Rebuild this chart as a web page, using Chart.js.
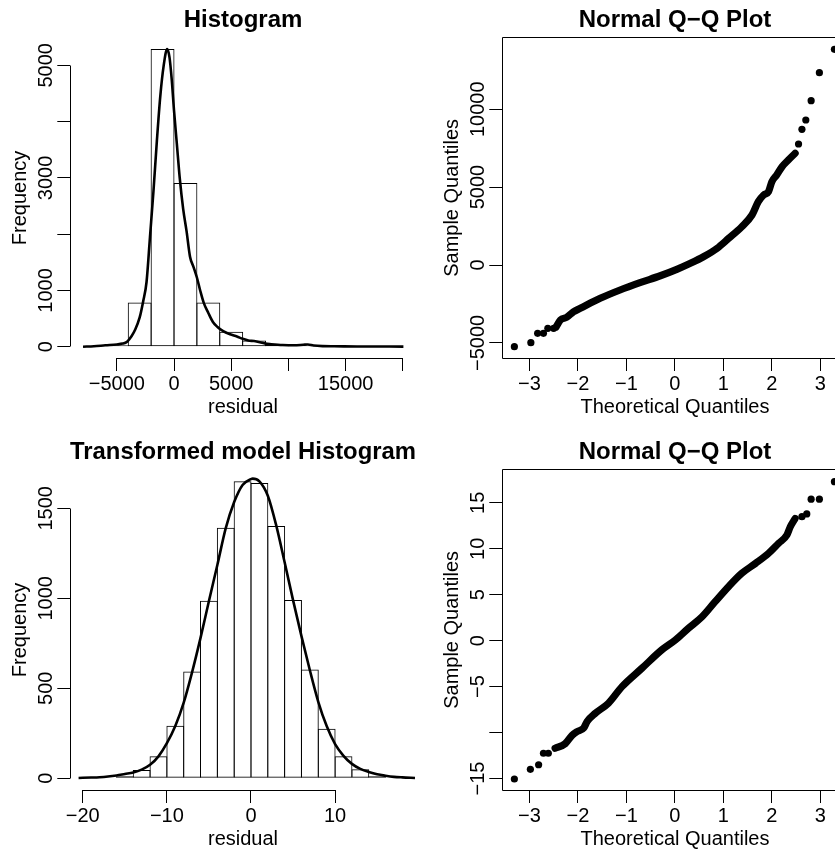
<!DOCTYPE html>
<html>
<head>
<meta charset="utf-8">
<script src="https://cdn.jsdelivr.net/npm/chart.js@4.4.1/dist/chart.umd.min.js"></script>
<style>
html,body{margin:0;padding:0;background:#fff;overflow:hidden;width:835px;height:854px;}
.fig{position:absolute;width:432px;height:432px;}
canvas{display:block;}
</style>
</head>
<body>
<div class="fig" style="left:0;top:0"><canvas id="c1" width="432" height="432"></canvas></div>
<div class="fig" style="left:432px;top:0"><canvas id="c2" width="432" height="432"></canvas></div>
<div class="fig" style="left:0;top:432px"><canvas id="c3" width="432" height="432"></canvas></div>
<div class="fig" style="left:432px;top:432px"><canvas id="c4" width="432" height="432"></canvas></div>
<script>
// ---------- Panel 1: Histogram of residuals ----------
const hist1BinCenters = [-5000, -3000, -1000, 1000, 3000, 5000, 7000, 9000, 11000, 13000];
const hist1Counts     = [25, 785, 5290, 2910, 785, 267, 110, 35, 12, 5];
const dens1X = [-7950,-7000,-6000,-5000,-4500,-4100,-3700,-3400,-3000,-2700,-2400,-2100,-1800,-1500,-1200,-900,-600,-400,-200,0,250,500,800,1100,1400,1700,2000,2300,2600,3000,3400,3800,4300,4900,5500,6000,6500,7000,7500,8000,8500,9500,10500,11300,11700,12200,13000,14000,16000,18000,20050];
const dens1Y = [0,8,25,40,55,90,190,300,520,800,1150,1950,2750,3650,4450,5000,5290,5150,4750,4200,3600,3000,2450,2050,1600,1420,1230,990,780,600,440,350,275,220,180,140,110,100,80,55,45,30,25,35,40,20,10,8,5,3,2];
const x1Ticks = [-5000, 0, 5000, 10000, 15000, 20000];
const x1TickLabels = ['\u22125000', '0', '5000', '', '15000', ''];
const y1Ticks = [0, 1000, 2000, 3000, 4000, 5000];
const y1TickLabels = ['0', '1000', '', '3000', '', '5000'];

// ---------- Panel 2: Normal Q-Q plot of residuals ----------
const qq2BandTheo   = [-2.45,-2.36,-2.23,-2.09,-1.95,-1.54,-1.13,-0.72,-0.30,0.04,0.32,0.59,0.87,1.11,1.38,1.59,1.72,1.83,1.93,2.0,2.10,2.21,2.34,2.48];
const qq2BandSample = [-3980,-3530,-3357,-3000,-2780,-2140,-1605,-1136,-690,-280,110,530,1072,1714,2459,3209,4063,4493,4705,5347,5777,6310,6739,7170];
const qq2TailTheo   = [-3.31,-2.97,-2.83,-2.71,-2.62,-2.50,2.55,2.62,2.70,2.81,2.98,3.29];
const qq2TailSample = [-5244,-4987,-4384,-4384,-4064,-4064,7766,8710,9307,10547,12343,13845];
const xQQTicks = [-3, -2, -1, 0, 1, 2, 3];
const xQQTickLabels = ['\u22123', '\u22122', '\u22121', '0', '1', '2', '3'];
const y2Ticks = [-5000, 0, 5000, 10000];
const y2TickLabels = ['\u22125000', '0', '5000', '10000'];

// ---------- Panel 3: Transformed model histogram ----------
const hist3BinCenters = [-19,-17,-15,-13,-11,-9,-7,-5,-3,-1,1,3,5,7,9,11,13,15,17];
const hist3Counts     = [1,3,12,46,122,292,593,987,1392,1650,1640,1402,991,605,275,122,50,12,3];
const dens3X = [-20.5,-19,-18,-17,-16,-15,-14,-13,-12,-11,-10,-9,-8,-7,-6,-5,-4,-3,-2,-1,0,0.2,1,2,3,4,5,6,7,8,9,10,11,12,13,14,15,16,17,18,19.5];
const dens3Y = [2,4,6,10,16,24,32,48,75,122,195,290,420,590,780,985,1185,1390,1535,1630,1662,1665,1650,1570,1405,1200,990,790,600,425,290,190,125,80,52,35,22,14,8,5,2];
const x3Ticks = [-20, -10, 0, 10];
const x3TickLabels = ['\u221220', '\u221210', '0', '10'];
const y3Ticks = [0, 500, 1000, 1500];
const y3TickLabels = ['0', '500', '1000', '1500'];

// ---------- Panel 4: Normal Q-Q plot of transformed residuals ----------
const qq4BandTheo   = [-2.47,-2.26,-2.12,-2.02,-1.88,-1.81,-1.64,-1.37,-1.09,-0.68,-0.27,0.01,0.28,0.56,0.83,1.11,1.38,1.66,1.93,2.14,2.31,2.38,2.48];
const qq4BandSample = [-11.7,-11.2,-10.3,-9.9,-9.5,-8.8,-7.9,-6.8,-5.0,-3.0,-1.0,0.08,1.35,2.6,4.24,5.9,7.33,8.4,9.5,10.6,11.5,12.4,13.3];
const qq4TailTheo   = [-3.31,-2.98,-2.81,-2.71,-2.61,2.62,2.72,2.81,2.98,3.29];
const qq4TailSample = [-15.05,-14.0,-13.5,-12.25,-12.25,13.5,13.8,15.4,15.4,17.3];
const y4Ticks = [-15, -10, -5, 0, 5, 10, 15];
const y4TickLabels = ['\u221215', '', '\u22125', '0', '5', '10', '15'];

// ---------- shared styling ----------
const FONT = "'Liberation Sans', Arial, Helvetica, sans-serif";
const TICK_LEN = 12.7;
const PLOT_W = 346;   // plot-region width in px (left 70 .. right 416)

function alignPx(p) { return Math.round(p - 0.5) + 0.5; }

function makeAxesPlugin(cfg) {
  return {
    id: 'rAxes',
    afterDraw(chart) {
      const ctx = chart.ctx, ca = chart.chartArea;
      const xs = chart.scales.x, ys = chart.scales.y;
      ctx.save();
      ctx.strokeStyle = '#000';
      ctx.lineWidth = 1;
      ctx.beginPath();
      if (cfg.box) {
        const l = alignPx(ca.left), r = alignPx(ca.right), t = alignPx(ca.top), b = alignPx(ca.bottom);
        ctx.rect(l, t, r - l, b - t);
      } else {
        const yb = alignPx(ca.bottom);
        ctx.moveTo(alignPx(xs.getPixelForValue(cfg.xTicks[0])), yb);
        ctx.lineTo(alignPx(xs.getPixelForValue(cfg.xTicks[cfg.xTicks.length - 1])), yb);
        const xl = alignPx(ca.left);
        ctx.moveTo(xl, alignPx(ys.getPixelForValue(cfg.yTicks[0])));
        ctx.lineTo(xl, alignPx(ys.getPixelForValue(cfg.yTicks[cfg.yTicks.length - 1])));
      }
      ctx.stroke();
      ctx.fillStyle = '#000';
      ctx.font = '20px ' + FONT;
      ctx.textAlign = 'center';
      ctx.textBaseline = 'middle';
      cfg.yTicks.forEach((v, i) => {
        const lab = cfg.yLabels[i];
        if (!lab) return;
        ctx.save();
        ctx.translate(ca.left - 23.3, ys.getPixelForValue(v));
        ctx.rotate(-Math.PI / 2);
        ctx.fillText(lab, 0, 0);
        ctx.restore();
      });
      ctx.restore();
    }
  };
}

function xScale(min, max, ticks, labels, title) {
  return {
    type: 'linear', min: min, max: max, bounds: 'data', offset: false,
    afterBuildTicks: s => { s.ticks = ticks.map(v => ({ value: v })); },
    afterFit: s => { s.height = 73.7; },
    grid: { display: true, offset: false, drawOnChartArea: false, drawTicks: true, tickLength: TICK_LEN, tickColor: '#000', tickWidth: 1 },
    border: { display: false },
    ticks: { autoSkip: false, maxRotation: 0, minRotation: 0, padding: 1.5, color: '#000',
             font: { family: FONT, size: 20 }, callback: (v, i) => labels[i] },
    title: { display: true, text: title, color: '#000', font: { family: FONT, size: 20 }, padding: { top: 0, bottom: 13 } }
  };
}

function yScale(min, max, ticks, title) {
  return {
    type: 'linear', min: min, max: max, bounds: 'data',
    afterBuildTicks: s => { s.ticks = ticks.map(v => ({ value: v })); },
    afterFit: s => { s.width = 70; },
    grid: { display: true, drawOnChartArea: false, drawTicks: true, tickLength: TICK_LEN, tickColor: '#000', tickWidth: 1 },
    border: { display: false },
    ticks: { display: false, autoSkip: false },
    title: { display: true, text: title, color: '#000', font: { family: FONT, size: 20 }, padding: { top: 8.5, bottom: 0 } }
  };
}

function baseOptions(title, scales) {
  return {
    responsive: false,
    animation: false,
    devicePixelRatio: 1,
    layout: { padding: { left: 0, right: 16, top: 0, bottom: 0 }, autoPadding: false },
    plugins: {
      legend: { display: false },
      tooltip: { enabled: false },
      title: { display: true, text: title, color: '#000', fullSize: false,
               font: { family: FONT, size: 24, weight: 'bold' }, padding: { top: 5.6, bottom: 3.1 } }
    },
    scales: scales
  };
}

function histChart(id, title, centers, counts, dx, dy, xr, yr, xt, xl, yt, yl) {
  const binW = centers[1] - centers[0];
  const binPx = PLOT_W * binW / (xr[1] - xr[0]);
  // widen each bar by 1px so neighbouring 1px edges overlap into a single line
  const barPct = (binPx + 1) / binPx;
  new Chart(document.getElementById(id), {
    type: 'bar',
    data: {
      datasets: [
        {
          type: 'line',
          data: dx.map((x, i) => ({ x: x, y: dy[i] })),
          borderColor: '#000', borderWidth: 2.6, pointRadius: 0, fill: false,
          cubicInterpolationMode: 'monotone', order: 1
        },
        {
          type: 'bar',
          data: centers.map((c, i) => ({ x: c, y: counts[i] })),
          backgroundColor: 'rgba(255,255,255,0)', borderColor: '#000',
          borderWidth: 1, borderSkipped: false, inflateAmount: 0,
          barPercentage: barPct, categoryPercentage: 1, grouped: false, order: 2
        }
      ]
    },
    options: baseOptions(title, {
      x: xScale(xr[0], xr[1], xt, xl, 'residual'),
      y: yScale(yr[0], yr[1], yt, 'Frequency')
    }),
    plugins: [makeAxesPlugin({ box: false, xTicks: xt, yTicks: yt, yLabels: yl })]
  });
}

function qqChart(id, bandX, bandY, tailX, tailY, xr, yr, yt, yl) {
  new Chart(document.getElementById(id), {
    type: 'scatter',
    data: {
      datasets: [
        {
          type: 'line',
          data: bandX.map((x, i) => ({ x: x, y: bandY[i] })),
          borderColor: '#000', borderWidth: 7.2, pointRadius: 0, fill: false,
          borderCapStyle: 'round', borderJoinStyle: 'round', cubicInterpolationMode: 'monotone'
        },
        {
          type: 'scatter',
          data: tailX.map((x, i) => ({ x: x, y: tailY[i] })),
          pointRadius: 3.6, pointBackgroundColor: '#000', pointBorderWidth: 0, showLine: false
        }
      ]
    },
    options: baseOptions('Normal Q\u2212Q Plot', {
      x: xScale(xr[0], xr[1], xQQTicks, xQQTickLabels, 'Theoretical Quantiles'),
      y: yScale(yr[0], yr[1], yt, 'Sample Quantiles')
    }),
    plugins: [makeAxesPlugin({ box: true, xTicks: xQQTicks, yTicks: yt, yLabels: yl })]
  });
}

histChart('c1', 'Histogram', hist1BinCenters, hist1Counts, dens1X, dens1Y,
  [-9090, 21150], [-206, 5495], x1Ticks, x1TickLabels, y1Ticks, y1TickLabels);
qqChart('c2', qq2BandTheo, qq2BandSample, qq2TailTheo, qq2TailSample,
  [-3.565, 3.57], [-5988, 14602], y2Ticks, y2TickLabels);
histChart('c3', 'Transformed model Histogram', hist3BinCenters, hist3Counts, dens3X, dens3Y,
  [-21.52, 19.62], [-66.7, 1715.6], x3Ticks, x3TickLabels, y3Ticks, y3TickLabels);
qqChart('c4', qq4BandTheo, qq4BandSample, qq4TailTheo, qq4TailSample,
  [-3.565, 3.57], [-16.28, 18.63], y4Ticks, y4TickLabels);
</script>
</body>
</html>
